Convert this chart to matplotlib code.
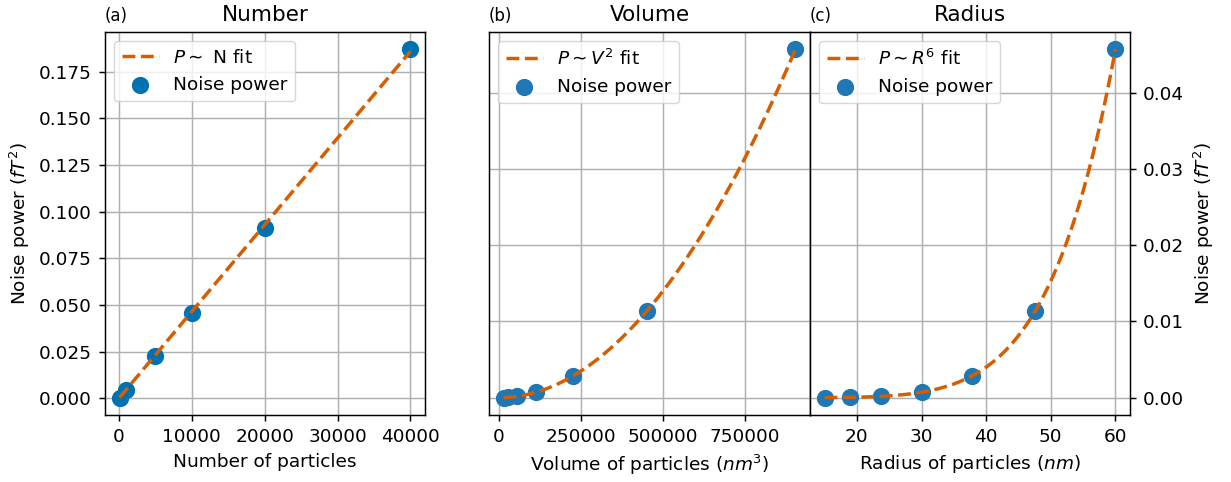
import numpy as np
import matplotlib.pyplot as plt

# Данные: количество частиц и мощность шума
number = [100, 1000, 5000, 10000, 20000, 40000]
power_number = [0.00047, 0.0047, 0.0229, 0.0457, 0.0915, 0.187]

# Объём и радиус частиц
radius = [15.0, 18.9, 23.8, 30.0, 37.8, 47.6, 60.0]
volume = [14137, 28274, 56549, 113097, 226195, 452389, 904779]
power_size = [0.00001, 0.00005, 0.0002, 0.0007, 0.0029, 0.0114, 0.0457]

fit_color = "#d55e00"
k = 1.33
plt.rcParams.update({
    "font.size": 13.3,
    "axes.linewidth": 0.8 * k,
    "grid.linewidth": 0.8 * k,
    "xtick.major.size": 3.5 * k,
    "ytick.major.size": 3.5 * k,
    "xtick.major.width": 0.8 * k,
    "ytick.major.width": 0.8 * k,
    "xtick.major.pad": 3.5 * k,
    "ytick.major.pad": 3.5 * k,
    "axes.labelpad": 4.0 * k,
    "axes.titlepad": 6.0 * k,
})

fig = plt.figure(figsize=(12.31, 4.82), dpi=100)
W, H = 1231, 482
ax0 = fig.add_axes([105 / W, 1 - 415 / H, 320 / W, 383 / H])
ax1 = fig.add_axes([489 / W, 1 - 415 / H, 321 / W, 383 / H])
ax2 = fig.add_axes([810 / W, 1 - 415 / H, 320 / W, 383 / H], sharey=ax1)


def fit_curve(x, y, p):
    x = np.asarray(x, float)
    y = np.asarray(y, float)
    a = np.sum(y * x ** p) / np.sum(x ** (2 * p))
    xs = np.linspace(x.min(), x.max(), 200)
    return xs, a * xs ** p


xs, ys = fit_curve(number, power_number, 1)
ax0.plot(xs, ys, "--", color=fit_color, linewidth=2.5, label=r"$P\sim$ N fit", zorder=3)
ax0.scatter(number, power_number, s=130, color="#0072b2", label="Noise power", zorder=2)
ax0.set_xlabel("Number of particles")
ax0.set_ylabel(r"Noise power ($fT^2$)")
ax0.set_title("Number", fontsize=15.5)
ax0.set_title("(a)", loc="left", fontsize=12)
ax0.set_xticks([0, 10000, 20000, 30000, 40000])
ax0.set_yticks([0, 0.025, 0.05, 0.075, 0.1, 0.125, 0.15, 0.175])

xs, ys = fit_curve(volume, power_size, 2)
ax1.plot(xs, ys, "--", color=fit_color, linewidth=2.5, label=r"$P\sim V^2$ fit", zorder=3)
ax1.scatter(volume, power_size, s=130, color="#1f77b4", label="Noise power", zorder=2)
ax1.set_xlabel(r"Volume of particles ($nm^3$)")
ax1.set_title("Volume", fontsize=15.5)
ax1.set_title("(b)", loc="left", fontsize=12)
ax1.set_xticks([0, 250000, 500000, 750000])
ax1.tick_params(axis="y", left=False, labelleft=False)

xs, ys = fit_curve(radius, power_size, 6)
ax2.plot(xs, ys, "--", color=fit_color, linewidth=2.5, label=r"$P\sim R^6$ fit", zorder=3)
ax2.scatter(radius, power_size, s=130, color="#1f77b4", label="Noise power", zorder=2)
ax2.set_xlabel(r"Radius of particles ($nm$)")
ax2.set_ylabel(r"Noise power ($fT^2$)")
ax2.yaxis.set_label_position("right")
ax2.yaxis.tick_right()
ax2.set_title("Radius", fontsize=15.5)
ax2.set_title("(c)", loc="left", fontsize=12)
ax2.set_xticks([20, 30, 40, 50, 60])
ax2.set_yticks([0, 0.01, 0.02, 0.03, 0.04])

for ax in (ax0, ax1, ax2):
    ax.grid(True)
    ax.set_axisbelow(True)
    ax.legend(loc="upper left")

fig.savefig("out.png", dpi=100)
